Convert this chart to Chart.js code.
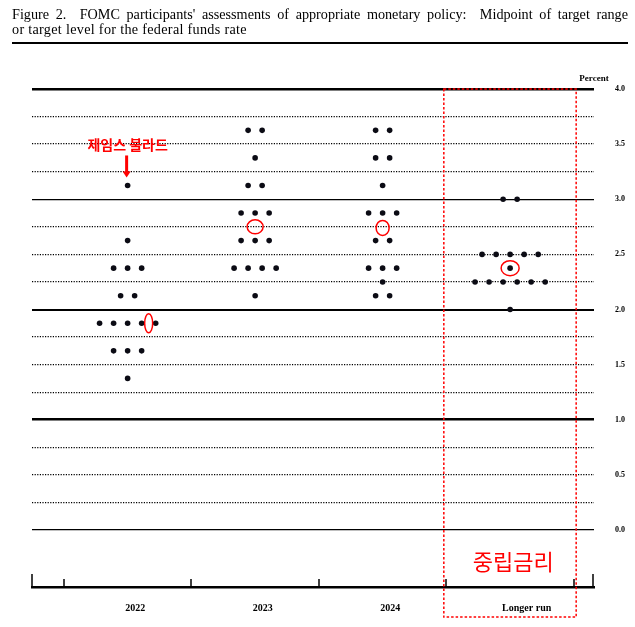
<!DOCTYPE html>
<html>
<head>
<meta charset="utf-8">
<script src="https://cdn.jsdelivr.net/npm/chart.js@4.4.1/dist/chart.umd.min.js"></script>
<style>
  body { margin: 0; background: #fff; }
  #wrap { position: relative; width: 635px; height: 627px; }
  #chart { position: absolute; left: 0; top: 0; }
  #title { position: absolute; left: 12px; top: 7px; width: 616px; font-family: "Liberation Serif", serif; font-size: 14.2px; line-height: 15px; color: #000; }
  #title .l1 { text-align: justify; text-align-last: justify; white-space: nowrap; }
  #title .l2 { letter-spacing: 0.3px; }
  #rule { position: absolute; left: 12px; top: 41.5px; width: 616px; height: 2.5px; background: #000; }
</style>
</head>
<body>
<div id="wrap">
  <canvas id="chart" width="635" height="627"></canvas>
  <div id="title">
    <div class="l1">Figure 2.&nbsp; FOMC participants' assessments of appropriate monetary policy:&nbsp; Midpoint of target range</div>
    <div class="l2">or target level for the federal funds rate</div>
  </div>
  <div id="rule"></div>
</div>
<script>
// 점도표 데이터 (2022년 3월 FOMC)
const columns = ['2022', '2023', '2024', 'Longer run'];
const dots2022 = [3.125, 2.625, 2.375, 2.375, 2.375, 2.125, 2.125, 1.875, 1.875, 1.875, 1.875, 1.875, 1.625, 1.625, 1.625, 1.375];
const dots2023 = [3.625, 3.625, 3.375, 3.125, 3.125, 2.875, 2.875, 2.875, 2.625, 2.625, 2.625, 2.375, 2.375, 2.375, 2.375, 2.125];
const dots2024 = [3.625, 3.625, 3.375, 3.375, 3.125, 2.875, 2.875, 2.875, 2.625, 2.625, 2.375, 2.375, 2.375, 2.25, 2.125, 2.125];
const dotsLonger = [3.0, 3.0, 2.5, 2.5, 2.5, 2.5, 2.5, 2.375, 2.25, 2.25, 2.25, 2.25, 2.25, 2.25, 2.0];
const gridValues = [0, 0.25, 0.5, 0.75, 1, 1.25, 1.5, 1.75, 2, 2.25, 2.5, 2.75, 3, 3.25, 3.5, 3.75, 4];
const yLabels = ['0.0', '0.5', '1.0', '1.5', '2.0', '2.5', '3.0', '3.5', '4.0'];

const allCols = [dots2022, dots2023, dots2024, dotsLonger];
const dotGap = 0.11;

// 같은 값끼리 가로로 나란히 배치
function toPoints(vals, col) {
  let counts = {};
  vals.forEach(v => counts[v] = (counts[v] || 0) + 1);
  let seen = {};
  return vals.map(v => {
    let k = seen[v] || 0;
    seen[v] = k + 1;
    return { x: col + (k - (counts[v] - 1) / 2) * dotGap, y: v };
  });
}

let points = [];
allCols.forEach((vals, i) => { points = points.concat(toPoints(vals, i + 1)); });

const serif = '"Liberation Serif", serif';

const annot = {
  id: 'annot',
  afterDatasetsDraw(chart) {
    const { ctx, chartArea: a, scales: { x, y } } = chart;
    ctx.save();

    // x축 눈금 (위로)
    ctx.strokeStyle = '#000';
    ctx.lineWidth = 1.5;
    [x.min, 0.5, 1.5, 2.5, 3.5, 4.5, x.max].forEach(v => {
      let px = Math.round(x.getPixelForValue(v));
      if (v === x.max) px -= 1;
      let h = (v === x.min || v === x.max) ? 13 : 8;
      ctx.beginPath();
      ctx.moveTo(px, a.bottom);
      ctx.lineTo(px, a.bottom - h);
      ctx.stroke();
    });

    // Percent
    ctx.fillStyle = '#000';
    ctx.font = 'bold 9px ' + serif;
    ctx.textAlign = 'center';
    ctx.textBaseline = 'middle';
    ctx.fillText('Percent', a.right, y.getPixelForValue(4) - 10);

    // 빨간 점선 박스
    ctx.strokeStyle = '#ff0000';
    ctx.lineWidth = 1.5;
    ctx.setLineDash([2.5, 2]);
    let bx1 = x.getPixelForValue(3.48), bx2 = x.getPixelForValue(4.518);
    let by1 = y.getPixelForValue(4), by2 = y.getPixelForValue(-0.79);
    ctx.strokeRect(bx1, by1, bx2 - bx1, by2 - by1);
    ctx.setLineDash([]);

    // 중앙값 동그라미
    const rings = [[2, 2.75, 8, 7], [3, 2.74, 6.5, 7.5], [1.165, 1.875, 4, 9.5], [4, 2.375, 9, 7.5]];
    ctx.lineWidth = 1.5;
    rings.forEach(r => {
      ctx.beginPath();
      ctx.ellipse(x.getPixelForValue(r[0]), y.getPixelForValue(r[1]), r[2], r[3], 0, 0, Math.PI * 2);
      ctx.stroke();
    });

    // 화살표
    let ax = x.getPixelForValue(1) - 1;
    let tip = y.getPixelForValue(3.125) - 8;
    ctx.fillStyle = '#ff0000';
    ctx.fillRect(ax - 1.5, tip - 22, 3, 17);
    ctx.beginPath();
    ctx.moveTo(ax - 4, tip - 6);
    ctx.lineTo(ax + 4, tip - 6);
    ctx.lineTo(ax, tip);
    ctx.closePath();
    ctx.fill();

    ctx.font = 'bold 14px "Noto Sans CJK KR"';
    ctx.fillText('제임스 불라드', ax + 1, y.getPixelForValue(3.5) + 1);

    ctx.font = '22px "Noto Sans CJK KR"';
    ctx.fillText('중립금리', x.getPixelForValue(4.024), y.getPixelForValue(-0.29));

    ctx.restore();
  }
};

new Chart(document.getElementById('chart'), {
  type: 'scatter',
  data: {
    datasets: [{
      data: points,
      pointRadius: 2.8,
      pointHoverRadius: 2.8,
      pointBackgroundColor: '#0b0b14',
      pointBorderWidth: 0
    }]
  },
  options: {
    responsive: false,
    animation: false,
    layout: { padding: { left: 32, top: 89, right: 0, bottom: 0 } },
    plugins: { legend: { display: false }, tooltip: { enabled: false } },
    scales: {
      x: {
        type: 'linear',
        min: 0.25,
        max: 0.25 + 562 / 127.5,
        afterBuildTicks: s => { s.ticks = [1.06, 2.06, 3.06, 4.13].map(v => ({ value: v })); },
        afterFit: s => { s.height = 40; },
        grid: { display: false, drawTicks: false },
        border: { display: true, color: '#000', width: 2.5 },
        ticks: {
          autoSkip: false,
          maxRotation: 0,
          padding: 15,
          color: '#000',
          font: { family: serif, size: 10, weight: 'bold' },
          callback: (v, i) => columns[i]
        }
      },
      y: {
        type: 'linear',
        position: 'right',
        min: -(57 / 110.25),
        max: 4,
        afterBuildTicks: s => { s.ticks = gridValues.map(v => ({ value: v })); },
        afterFit: s => { s.width = 41; },
        grid: {
          drawTicks: false,
          color: '#000',
          lineWidth: c => {
            if (!c.tick) return 1;
            const v = c.tick.value;
            if (v === 4 || v === 1) return 2.5;
            if (v === 2) return 2;
            if (v === 3) return 1.2;
            if (v === 0) return 1.3;
            return 1.3;
          }
        },
        border: {
          display: false,
          dash: c => (c.tick && c.tick.value % 1 !== 0) ? [1.2, 1.4] : []
        },
        ticks: {
          autoSkip: false,
          padding: 21,
          color: '#000',
          font: { family: serif, size: 8, weight: 'bold' },
          callback: v => (v * 2) % 1 === 0 ? yLabels[v * 2] : ''
        }
      }
    }
  },
  plugins: [annot]
});
</script>
</body>
</html>
